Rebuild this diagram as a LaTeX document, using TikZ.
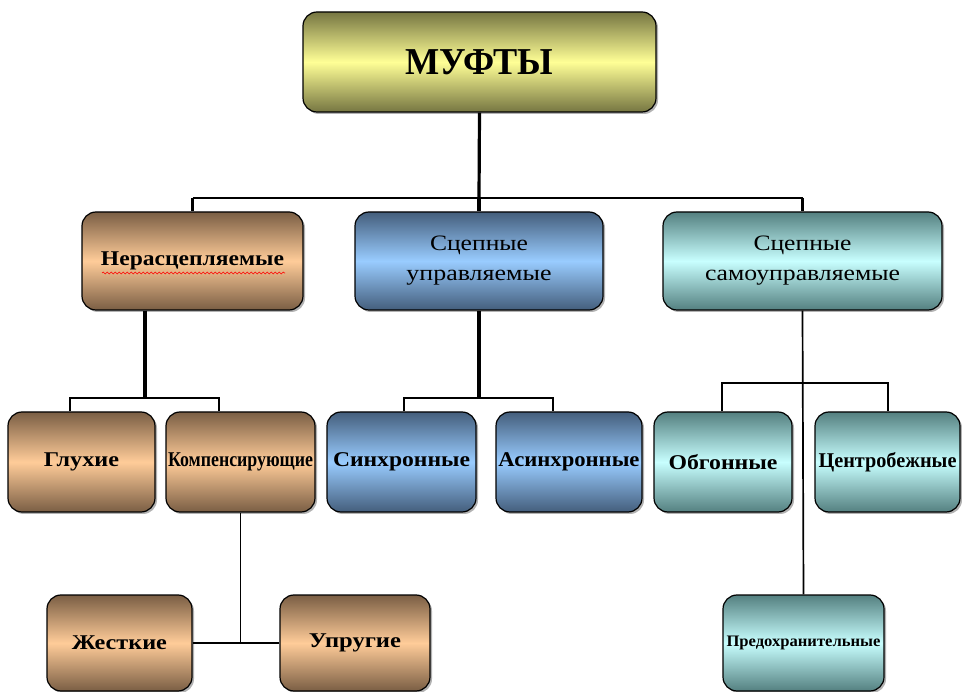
\documentclass[tikz,border=0pt]{standalone}
\usepackage{graphicx}
\usepackage{fontspec}
\setmainfont{Liberation Serif}
\usetikzlibrary{shadows,decorations.pathmorphing}
\newcommand\fw[2]{\resizebox{#1pt}{\height}{#2}}
\definecolor{yelE}{RGB}{118,118,66}
\definecolor{yelM}{RGB}{255,255,150}
\definecolor{brnE}{RGB}{122,94,68}
\definecolor{brnM}{RGB}{255,204,153}
\definecolor{bluE}{RGB}{68,94,124}
\definecolor{bluM}{RGB}{153,204,255}
\definecolor{tealE}{RGB}{84,128,128}
\definecolor{tealM}{RGB}{200,255,255}
\tikzset{
  box/.style={draw=black, line width=1.2pt, rounded corners=14pt, shading=axis,
    inner sep=0pt, align=center, text=black,
    drop shadow={shadow xshift=2pt, shadow yshift=-2pt, opacity=0.3, fill=black}},
  yel/.style={top color=yelE, bottom color=yelE, middle color=yelM},
  brn/.style={top color=brnE, bottom color=brnE, middle color=brnM},
  blu/.style={top color=bluE, bottom color=bluE, middle color=bluM},
  tea/.style={top color=tealE, bottom color=tealE, middle color=tealM},
  lvA/.style={font=\fontsize{21}{24}\selectfont\bfseries},
  lvB/.style={font=\fontsize{22}{30}\selectfont},
  trunk/.style={line width=3.2pt, black},
  bar/.style={line width=2.2pt, black},
  thin/.style={line width=1.7pt, black}
}
\begin{document}
\begin{tikzpicture}[x=1pt,y=-1pt]
\useasboundingbox (0,0) rectangle (962,692);
% connectors (drawn first, boxes on top)
\coordinate (b1) at (479,198);
\coordinate (b1l) at (192.5,198);
\coordinate (b1r) at (802.5,198);
\coordinate (b2) at (145,398);
\coordinate (b2l) at (70,398);
\coordinate (b2r) at (219,398);
\coordinate (b3) at (479,398);
\coordinate (b3l) at (404,398);
\coordinate (b3r) at (553,398);
\coordinate (b4) at (802.5,383);
\coordinate (b4l) at (722,383);
\coordinate (b4r) at (888,383);
\coordinate (b5) at (240.5,643);
% boxes
\node[box, yel, minimum width=353, minimum height=100, font=\fontsize{38}{40}\selectfont\bfseries] (muf) at (479.5,62) {\fw{148}{МУФТЫ}};
\node[box, brn, lvA, minimum width=221, minimum height=98] (ner) at (192.5,261) {\fw{183}{Нерасцепляемые}};
\node[box, blu, lvB, minimum width=248, minimum height=98] (upr) at (479,261) {\fw{98}{Сцепные}\\\fw{145}{управляемые}};
\node[box, tea, lvB, minimum width=279, minimum height=98] (sam) at (802.5,261) {\fw{98}{Сцепные}\\\fw{195}{самоуправляемые}};
\node[box, brn, lvA, minimum width=147, minimum height=100] (glu) at (81.5,462) {\fw{75}{Глухие}};
\node[box, brn, lvA, minimum width=149, minimum height=100] (kom) at (240.5,462) {\fw{145}{Компенсирующие}};
\node[box, blu, lvA, minimum width=149, minimum height=100] (sin) at (401.5,462) {\fw{137}{Синхронные}};
\node[box, blu, lvA, minimum width=146, minimum height=100] (asi) at (569,462) {\fw{141}{Асинхронные}};
\node[box, tea, lvA, minimum width=138, minimum height=100] (obg) at (723,462) {\fw{109}{Обгонные}};
\node[box, tea, lvA, minimum width=145, minimum height=100] (cen) at (887.5,462) {\fw{138}{Центробежные}};
\node[box, brn, lvA, minimum width=145, minimum height=96] (zhe) at (119.5,643) {\fw{95}{Жесткие}};
\node[box, brn, lvA, minimum width=150, minimum height=96] (upu) at (355,643) {\fw{92}{Упругие}};
\node[box, tea, font=\fontsize{16}{18}\selectfont\bfseries, minimum width=161, minimum height=96] (pre) at (803.5,643) {\fw{154}{Предохранительные}};
% spell-check underline
\draw[red, line width=0.6pt, decorate, decoration={snake, amplitude=0.9pt, segment length=4pt}] (102,273) -- (285,273);
\draw[trunk] (muf.south) -- (b1);
\draw[bar] (b1l) -- (b1r);
\draw[bar] (b1l) -- (ner.north);
\draw[trunk] (b1) -- (upr.north);
\draw[bar] (b1r) -- (sam.north);
\draw[trunk] (ner.south -| b2) -- (b2);
\draw[bar] (glu.north -| b2l) |- (b2r) -- (kom.north -| b2r);
\draw[trunk] (upr.south) -- (b3);
\draw[bar] (sin.north -| b3l) |- (b3r) -- (asi.north -| b3r);
\draw[thin] (sam.south) -- (pre.north);
\draw[bar] (obg.north -| b4l) |- (b4r) -- (cen.north -| b4r);
\draw[thin] (kom.south) -- (b5);
\draw[bar] (zhe.east) -- (upu.west);
\end{tikzpicture}
\end{document}
